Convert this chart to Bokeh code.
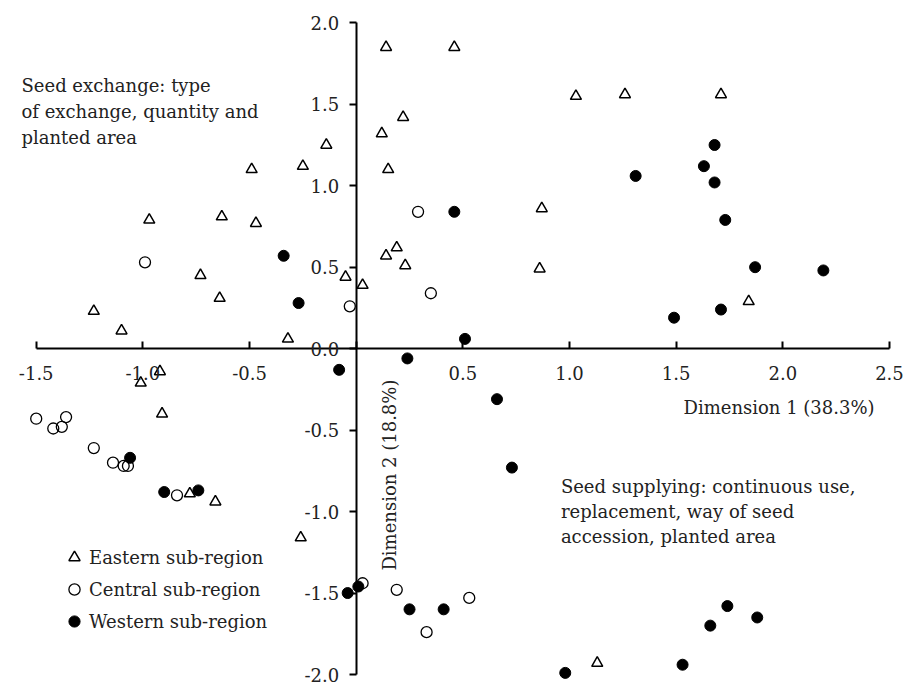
from bokeh.plotting import figure
from bokeh.models import LinearAxis, FixedTicker, Label, Legend, LegendItem
from bokeh.embed import file_html
from bokeh.resources import INLINE

# ---- data ----
east_x = [0.14, 0.46, 0.22, 0.12, -0.14, -0.49, -0.25, 0.15, -0.97, -0.63, -0.47, -0.73, -0.64,
          -1.23, -1.10, -0.05, 0.03, 0.14, 0.19, 0.23, -0.32, 1.03, 1.26, 1.71, 0.87, 0.86, 1.84,
          -0.92, -1.01, -0.91, -0.78, -0.66, -0.26, 1.13]
east_y = [1.85, 1.85, 1.42, 1.32, 1.25, 1.10, 1.12, 1.10, 0.79, 0.81, 0.77, 0.45, 0.31,
          0.23, 0.11, 0.44, 0.39, 0.57, 0.62, 0.51, 0.06, 1.55, 1.56, 1.56, 0.86, 0.49, 0.29,
          -0.14, -0.21, -0.40, -0.89, -0.94, -1.16, -1.93]

central_x = [0.29, -0.99, -0.03, 0.35, -1.50, -1.42, -1.38, -1.36, -1.23, -1.14, -1.09, -1.07,
             -0.84, 0.03, 0.19, 0.33, 0.53]
central_y = [0.84, 0.53, 0.26, 0.34, -0.43, -0.49, -0.48, -0.42, -0.61, -0.70, -0.72, -0.72,
             -0.90, -1.44, -1.48, -1.74, -1.53]

west_x = [-0.34, -0.27, 0.46, 1.68, 1.63, 1.31, 1.68, 1.73, 1.87, 2.19, 1.71, 1.49, 0.51,
          -1.06, -0.90, -0.74, -0.08, 0.24, -0.04, 0.01, 0.25, 0.41, 0.66, 0.73, 1.74, 1.88,
          1.66, 1.53, 0.98]
west_y = [0.57, 0.28, 0.84, 1.25, 1.12, 1.06, 1.02, 0.79, 0.50, 0.48, 0.24, 0.19, 0.06,
          -0.67, -0.88, -0.87, -0.13, -0.06, -1.50, -1.46, -1.60, -1.60, -0.31, -0.73, -1.58, -1.65,
          -1.70, -1.94, -1.99]

series_names = ["Eastern sub-region", "Central sub-region", "Western sub-region"]

x_ticks = [-1.5, -1.0, -0.5, 0.0, 0.5, 1.0, 1.5, 2.0, 2.5]
x_tick_labels = ["-1.5", "-1.0", "-0.5", "", "0.5", "1.0", "1.5", "2.0", "2.5"]
y_ticks = [-2.0, -1.5, -1.0, -0.5, 0.0, 0.5, 1.0, 1.5, 2.0]
y_tick_labels = ["-2.0", "-1.5", "-1.0", "-0.5", "0.0", "0.5", "1.0", "1.5", "2.0"]

x_title = "Dimension 1 (38.3%)"
y_title = "Dimension 2 (18.8%)"
note_top = ["Seed exchange: type", "of exchange, quantity and", "planted area"]
note_bottom = ["Seed supplying: continuous use,", "replacement, way of seed", "accession, planted area"]

FONT = "DejaVu Serif"
FS = "18px"
TXT = "#222222"

# frame fills the whole canvas; axes are bounded to the drawn extent
p = figure(width=906, height=688, x_range=(-1.6674, 2.5797), y_range=(-2.0859, 2.1369),
           output_backend="svg", toolbar_location=None,
           x_axis_location=None, y_axis_location=None,
           min_border_left=0, min_border_right=0, min_border_top=0, min_border_bottom=0)
for g in p.grid:
    g.visible = False
p.outline_line_color = None
p.background_fill_color = "white"
p.border_fill_color = "white"

xaxis = LinearAxis(fixed_location=0, bounds=(-1.5, 2.5), ticker=FixedTicker(ticks=x_ticks),
                   major_label_overrides={t: s for t, s in zip(x_ticks, x_tick_labels)},
                   minor_tick_line_color=None, major_tick_in=7, major_tick_out=0,
                   axis_line_width=2, major_tick_line_width=2, major_label_standoff=17,
                   major_label_text_font=FONT, major_label_text_font_size=FS,
                   major_label_text_color=TXT)
p.add_layout(xaxis, "below")

yaxis = LinearAxis(fixed_location=0, bounds=(-2.0, 2.0), ticker=FixedTicker(ticks=y_ticks),
                   major_label_overrides={t: s for t, s in zip(y_ticks, y_tick_labels)},
                   minor_tick_line_color=None, major_tick_in=0, major_tick_out=7,
                   axis_line_width=2, major_tick_line_width=2, major_label_standoff=10,
                   major_label_text_font=FONT, major_label_text_font_size=FS,
                   major_label_text_color=TXT)
p.add_layout(yaxis, "left")

r_e = p.scatter(east_x, east_y, marker="triangle", size=11, fill_color=None,
                line_color="black", line_width=1.5)
r_c = p.scatter(central_x, central_y, marker="circle", size=11, fill_color=None,
                line_color="black", line_width=1.3)
r_w = p.scatter(west_x, west_y, marker="circle", size=11, fill_color="black",
                line_color="black", line_width=1)

legend = Legend(items=[LegendItem(label=series_names[0], renderers=[r_e]),
                       LegendItem(label=series_names[1], renderers=[r_c]),
                       LegendItem(label=series_names[2], renderers=[r_w])],
                location=(60, 53), padding=0, margin=0, spacing=4,
                glyph_width=28, glyph_height=28, label_standoff=1,
                label_text_font=FONT, label_text_font_size=FS, label_text_color=TXT,
                border_line_color=None, background_fill_alpha=0)
p.add_layout(legend, "center")

def add_label(x, y, text, **kw):
    p.add_layout(Label(x=x, y=y, text=text, text_font=FONT, text_font_size=FS,
                       text_color=TXT, **kw))

for txt, yy in zip(note_top, [1.615, 1.4555, 1.2977]):
    add_label(-1.569, yy, txt, text_align="left", text_baseline="alphabetic")
for txt, yy in zip(note_bottom, [-0.8447, -0.998, -1.1516]):
    add_label(0.9595, yy, txt, text_align="left", text_baseline="alphabetic")
add_label(2.430, -0.3634, x_title, text_align="right", text_baseline="middle")
add_label(0.1564, -0.776, y_title, text_align="center", text_baseline="middle", angle=1.5708)

open("out.html", "w").write(file_html(p, INLINE))
